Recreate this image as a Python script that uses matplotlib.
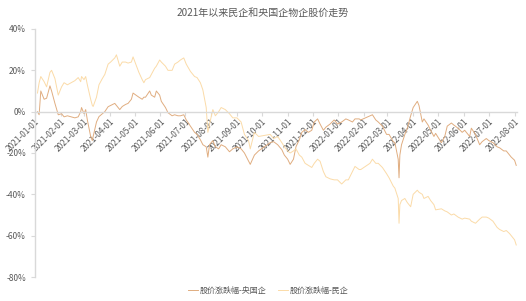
import numpy as np
import pandas as pd
import matplotlib
matplotlib.use("Agg")
import matplotlib.pyplot as plt

plt.rcParams['font.family'] = ['Noto Sans CJK SC', 'DejaVu Sans']

title = "2021年以来民企和央国企物企股价走势"
series_names = ["股价涨跌幅-央国企", "股价涨跌幅-民企"]

# values (% change since start of 2021)
dates = [
    "2021-01-04", "2021-01-06", "2021-01-08", "2021-01-12", "2021-01-15", "2021-01-19",
    "2021-01-21", "2021-01-25", "2021-01-28", "2021-01-29", "2021-02-02", "2021-02-05",
    "2021-02-09", "2021-02-18", "2021-02-22", "2021-02-25", "2021-02-26", "2021-03-01",
    "2021-03-03", "2021-03-05", "2021-03-09", "2021-03-11", "2021-03-12", "2021-03-16",
    "2021-03-19", "2021-03-23", "2021-03-26", "2021-03-30", "2021-04-02", "2021-04-07",
    "2021-04-09", "2021-04-13", "2021-04-16", "2021-04-20", "2021-04-23", "2021-04-27",
    "2021-04-29", "2021-05-06", "2021-05-10", "2021-05-12", "2021-05-14", "2021-05-19",
    "2021-05-21", "2021-05-25", "2021-05-27", "2021-05-31", "2021-06-02", "2021-06-07",
    "2021-06-10", "2021-06-15", "2021-06-18", "2021-06-22", "2021-06-25", "2021-06-29",
    "2021-07-02", "2021-07-07", "2021-07-12", "2021-07-15", "2021-07-19", "2021-07-22",
    "2021-07-26", "2021-07-28", "2021-07-30", "2021-08-03", "2021-08-06", "2021-08-10",
    "2021-08-13", "2021-08-18", "2021-08-23", "2021-08-27", "2021-09-01", "2021-09-06",
    "2021-09-10", "2021-09-15", "2021-09-17", "2021-09-22", "2021-09-27", "2021-10-11",
    "2021-10-15", "2021-10-20", "2021-10-25", "2021-10-28", "2021-11-01", "2021-11-04",
    "2021-11-08", "2021-11-11", "2021-11-15", "2021-11-18", "2021-11-22", "2021-11-26",
    "2021-11-30", "2021-12-03", "2021-12-07", "2021-12-10", "2021-12-14", "2021-12-17",
    "2021-12-22", "2021-12-27", "2021-12-31", "2022-01-05", "2022-01-10", "2022-01-13",
    "2022-01-18", "2022-01-21", "2022-01-26", "2022-01-28", "2022-02-08", "2022-02-11",
    "2022-02-15", "2022-02-18", "2022-02-23", "2022-02-28", "2022-03-03", "2022-03-08",
    "2022-03-10", "2022-03-14", "2022-03-15", "2022-03-16", "2022-03-18", "2022-03-22",
    "2022-03-25", "2022-03-29", "2022-04-01", "2022-04-06", "2022-04-08", "2022-04-12",
    "2022-04-14", "2022-04-19", "2022-04-22", "2022-04-26", "2022-04-28", "2022-05-05",
    "2022-05-09", "2022-05-12", "2022-05-17", "2022-05-20", "2022-05-25", "2022-05-30",
    "2022-06-02", "2022-06-08", "2022-06-10", "2022-06-15", "2022-06-20", "2022-06-23",
    "2022-06-28", "2022-07-01", "2022-07-06", "2022-07-11", "2022-07-14", "2022-07-19",
    "2022-07-22", "2022-07-26", "2022-07-28", "2022-08-01", "2022-08-03",
]

soe = [
    0, -1.5, 10, 6, 6.5, 12.5, 10, 4, 0, -1.5, -1, -2.5,
    -2, -3, -2.5, 0, 2, -1, 1, -4, -12, -14, -12, -5,
    -2.4, -1, 0, 2.4, 3, 4, 3, 1, 2.5, 3.5, 4, 6,
    9, 7, 6, 7, 7, 10, 8, 7, 10, 8, 5, 2,
    -0.5, -2, -1.5, -2, -2, -1.5, -4, -7, -10, -11, -13.6, -16,
    -17, -22, -16, -14, -17, -18, -16, -17, -19.4, -18, -17, -18,
    -20, -24, -25.5, -21, -19, -15, -14.5, -16, -18.4, -21, -23, -25.5,
    -23, -17, -13.6, -10, -8.7, -10, -9, -5, -3.5, -6, -9, -7.5,
    -6, -4, -6, -5, -3.5, -4, -5, -3.5, -3.5, -4, -2, -1.5,
    -4, -5, -7, -11, -11, -14.5, -15, -23, -32, -21, -16, -11,
    -8, -2, 2, 5, 3, -5, -3.5, -6.5, -9, -12, -10.5, -15,
    -12, -7, -5.5, -6.5, -8, -10, -9, -12, -8, -11, -16, -14.5,
    -13, -14, -15, -17, -17.5, -19, -19, -21, -22, -23.5, -26,
]

private = [
    9, 14, 17, 14.5, 12, 19, 20, 16, 10, 8, 12, 14,
    13, 15, 16.5, 14.5, 17, 15.5, 17, 13, 6, 3, 2.5, 7,
    13, 16, 18, 23, 24, 26, 27.5, 22, 24, 24, 23.5, 24,
    26.5, 19, 15.5, 14, 15.5, 16.5, 18, 21, 22, 25, 24, 22,
    20, 20, 23, 24, 25, 26, 23, 19.5, 17, 16.5, 14, 10.5,
    2, -10, -6, 1, -2, 0, 2, 1, -1, -3, -3, -5,
    -11, -14, -18, -10, -12, -11, -13, -12, -15, -17, -19, -20,
    -19, -18, -21, -22, -25, -26, -27, -25, -23, -24, -29, -31.5,
    -32.5, -33, -33, -35, -33, -33, -29, -26.5, -28, -28, -25, -23,
    -25, -25, -27, -30, -32, -36, -37, -42, -54, -45, -43, -42,
    -44, -46, -40, -38, -39, -40, -42, -41, -43, -45, -47.5, -47,
    -48, -48.5, -50, -49.5, -51, -52, -51.5, -52, -53, -54, -52, -51,
    -51, -51.5, -53, -56, -57, -58, -57.5, -59, -60, -62, -64.5,
]

y_ticks = [-80, -60, -40, -20, 0, 20, 40]
month_ticks = pd.date_range("2021-01-01", "2022-08-01", freq="MS")

x = pd.to_datetime(dates)
grey = "#595959"
soe_color = "#E0AD80"
private_color = "#FBDBA8"

fig = plt.figure(figsize=(5.26, 3.01), dpi=100)
ax = fig.add_axes([0.0665, 0.0797, 0.9165, 0.824])

ax.plot(x, soe, color=soe_color, lw=0.7, label=series_names[0])
ax.plot(x, private, color=private_color, lw=0.7, label=series_names[1])

ax.set_ylim(-80, 40)
ax.set_xlim(pd.Timestamp("2021-01-01"), pd.Timestamp("2022-08-04"))

ax.spines["bottom"].set_position(("data", 0))
for s in ["top", "right"]:
    ax.spines[s].set_visible(False)
for s in ["bottom", "left"]:
    ax.spines[s].set_color("#d9d9d9")
    ax.spines[s].set_linewidth(1.0)

ax.tick_params(axis="both", colors="#d9d9d9", labelcolor=grey, labelsize=6, length=3, width=0.8)
ax.tick_params(axis="x", pad=1)

ax.set_yticks(y_ticks)
ax.set_yticklabels([f"{v}%" for v in y_ticks])
ax.set_xticks(month_ticks)
ax.set_xticklabels([d.strftime("%Y-%m-%d") for d in month_ticks], rotation=45,
                   ha="right", va="top", rotation_mode="anchor")

fig.text(0.5, 0.957, title, ha="center", va="center", fontsize=7.2, color=grey)
fig.legend(loc="center", bbox_to_anchor=(0.51, 0.036), ncol=2, frameon=False,
           fontsize=5.8, handlelength=1.2, handletextpad=0.2, columnspacing=1.5,
           labelcolor=grey)

fig.savefig("out.png", dpi=100)
